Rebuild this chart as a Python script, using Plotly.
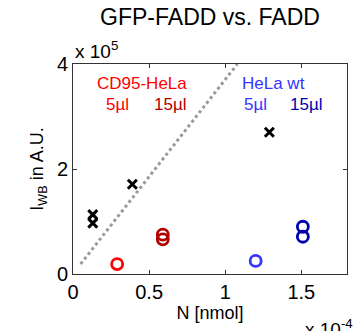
import plotly.graph_objects as go

# Data (x in units of 1e-4 nmol, y in units of 1e5)
gfp_x = [0.13, 0.13, 0.39, 1.29]
gfp_y = [1.13, 0.97, 1.71, 2.70]

cd95_5_x = [0.29]
cd95_5_y = [0.19]
cd95_15_x = [0.59, 0.59]
cd95_15_y = [0.75, 0.66]

wt_5_x = [1.20]
wt_5_y = [0.25]
wt_15_x = [1.51, 1.51]
wt_15_y = [0.90, 0.71]

line_x = [0.05, 1.08]
line_y = [0.19, 4.0]

xticks = [0, 0.5, 1, 1.5]
xticklabels = ["0", "0.5", "1", "1.5"]
yticks = [0, 2, 4]
yticklabels = ["0", "2", "4"]

RED = "#FF0000"
DRED = "#B00000"
BLUE = "#3535FF"
DBLUE = "#0000B0"
FONT = "Liberation Sans, Arial, sans-serif"

fig = go.Figure()
fig.add_trace(go.Scatter(x=line_x, y=line_y, mode="lines",
                         line=dict(color="#999999", width=3, dash="dot"),
                         showlegend=False))
fig.add_trace(go.Scatter(x=gfp_x, y=gfp_y, mode="markers",
                         marker=dict(symbol="x-thin", size=9, color="black",
                                     line=dict(color="black", width=3)),
                         showlegend=False))
for xs, ys, c in [(cd95_5_x, cd95_5_y, RED), (cd95_15_x, cd95_15_y, DRED),
                  (wt_5_x, wt_5_y, BLUE), (wt_15_x, wt_15_y, DBLUE)]:
    fig.add_trace(go.Scatter(x=xs, y=ys, mode="markers",
                             marker=dict(symbol="circle-open", size=11, color=c,
                                         line=dict(color=c, width=2.8)),
                             showlegend=False))

axis_common = dict(showline=True, linecolor="#333333", linewidth=1, mirror="ticks",
                   ticks="inside", ticklen=4, tickcolor="#333333",
                   showgrid=False, zeroline=False,
                   tickfont=dict(family=FONT, size=20, color="black"))

fig.update_xaxes(range=[0, 1.8], tickvals=xticks, ticktext=xticklabels,
                 title=dict(text="N [nmol]", font=dict(family=FONT, size=18, color="black"),
                            standoff=4), **axis_common)
fig.update_yaxes(range=[0, 4], tickvals=yticks, ticktext=yticklabels,
                 title=dict(text="I<sub>WB</sub> in A.U.", font=dict(family=FONT, size=18, color="black"),
                            standoff=8), **axis_common)

ann = [
    dict(x=0.45, y=3.62, text="CD95-HeLa", color=RED),
    dict(x=0.29, y=3.22, text="5µl", color=RED),
    dict(x=0.64, y=3.22, text="15µl", color=DRED),
    dict(x=1.32, y=3.62, text="HeLa wt", color=BLUE),
    dict(x=1.20, y=3.22, text="5µl", color=BLUE),
    dict(x=1.53, y=3.22, text="15µl", color=DBLUE),
]
for a in ann:
    fig.add_annotation(x=a["x"], y=a["y"], xref="x", yref="y", text=a["text"],
                       showarrow=False, font=dict(family=FONT, size=17, color=a["color"]))

fig.add_annotation(x=0, y=1, xref="paper", yref="paper", xanchor="left", yanchor="bottom",
                   text="x 10<sup>5</sup>", showarrow=False, yshift=0,
                   font=dict(family=FONT, size=19, color="black"))
fig.add_annotation(x=1, y=0, xref="paper", yref="paper", xanchor="right", yanchor="top",
                   text="x 10<sup>-4</sup>", showarrow=False, yshift=-40, xshift=8,
                   font=dict(family=FONT, size=19, color="black"))

fig.update_layout(
    width=358, height=331,
    margin=dict(l=73, r=11, t=64, b=57),
    paper_bgcolor="white", plot_bgcolor="white",
    title=dict(text="GFP-FADD vs. FADD", x=0.5, xanchor="center", y=0.95, yanchor="middle",
               xref="paper", font=dict(family=FONT, size=23, color="black")),
    font=dict(family=FONT),
)

fig.write_html("out.html")
